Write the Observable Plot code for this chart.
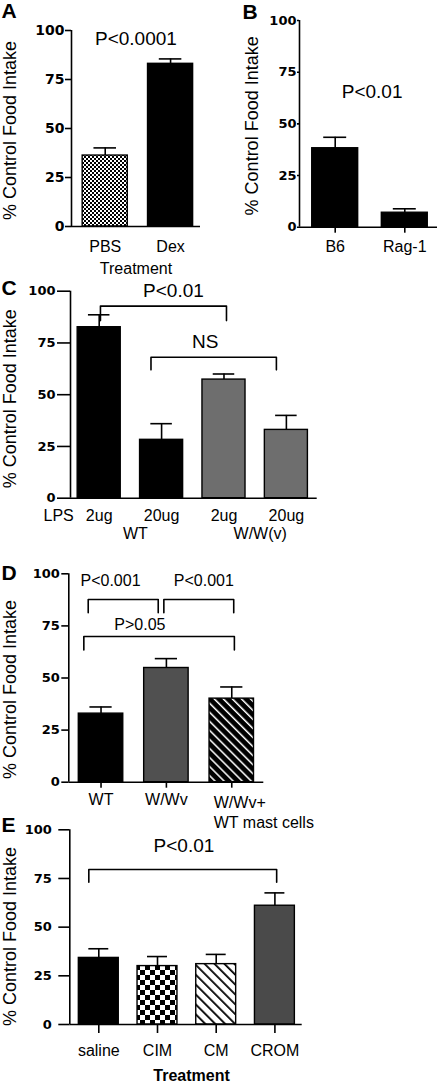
<!DOCTYPE html>
<html>
<head>
<meta charset="utf-8">
<script src="https://cdn.jsdelivr.net/npm/d3@7"></script>
<script src="https://cdn.jsdelivr.net/npm/@observablehq/plot@0.6"></script>
<style>
  body { margin: 0; background: #fff; }
  #fig { position: relative; width: 438px; height: 1085px; overflow: hidden; font-family: "Liberation Sans", Arial, Helvetica, sans-serif; }
  #fig > svg.panel { position: absolute; }
</style>
</head>
<body>
<div id="fig">
<svg width="0" height="0" style="position:absolute">
  <defs>
    <pattern id="chkS" width="4" height="4" patternUnits="userSpaceOnUse">
      <rect width="4" height="4" fill="#fff"/><rect width="2" height="2" fill="#000"/><rect x="2" y="2" width="2" height="2" fill="#000"/>
    </pattern>
    <pattern id="chkL" width="10" height="10" patternUnits="userSpaceOnUse">
      <rect width="10" height="10" fill="#fff"/><rect width="5" height="5" fill="#000"/><rect x="5" y="5" width="5" height="5" fill="#000"/>
    </pattern>
    <pattern id="hatchW" width="7" height="7" patternUnits="userSpaceOnUse" patternTransform="rotate(-45)">
      <rect width="7" height="7" fill="#fff"/><rect width="1.8" height="7" fill="#000"/>
    </pattern>
    <pattern id="hatchB" width="6.4" height="6.4" patternUnits="userSpaceOnUse" patternTransform="rotate(-45)">
      <rect width="6.4" height="6.4" fill="#000"/><rect width="1.5" height="6.4" fill="#fff"/>
    </pattern>
  </defs>
</svg>
</div>
<script>
// ---------------- data ----------------
const yTicks = [0, 25, 50, 75, 100];
const yTitle = "% Control Food Intake";

// Panel A
const catsA = ["PBS", "Dex"];
const meanA = [36.2, 83.0];
const semA = [3.9, 2.5];
const statA = [{text: "P<0.0001", x: 0.47, y: 95.9}];

// Panel B
const catsB = ["B6", "Rag-1"];
const meanB = [38.2, 7.0];
const semB = [5.3, 1.9];
const statB = [{text: "P<0.01", x: 0.53, y: 65.3}];

// Panel C
const doseC = ["2ug", "20ug", "2ug", "20ug"];
const groupC = ["WT", "WT", "W/W(v)", "W/W(v)"];
const meanC = [82.6, 28.2, 57.3, 33.0];
const semC = [6.0, 7.8, 2.7, 7.0];
const bracketC = [{from: 0.02, to: 2.04, y: 92.8, leg: 85.8}, {from: 0.83, to: 2.84, y: 68.1, leg: 62.0}];
const statC = [{text: "P<0.01", x: 1.19, y: 100}, {text: "NS", x: 1.70, y: 75.4}];

// Panel D
const catsD = ["WT", "W/Wv", "W/Wv+\nWT mast cells"];
const meanD = [32.9, 54.8, 40.1];
const semD = [3.2, 4.5, 5.6];
const bracketD = [
  {from: -0.196, to: 0.875, y: 87.7, leg: 81.3},
  {from: 0.961, to: 2.03, y: 87.7, leg: 81.3},
  {from: -0.263, to: 2.04, y: 69.9, leg: 63.4}
];
const statD = [{text: "P<0.001", x: 0.145, y: 96.4}, {text: "P<0.001", x: 1.573, y: 96.4}, {text: "P>0.05", x: 0.594, y: 75.5}];

// Panel E
const catsE = ["saline", "CIM", "CM", "CROM"];
const meanE = [34.2, 30.0, 31.0, 61.0];
const semE = [4.7, 4.9, 5.0, 6.6];
const bracketE = [{from: -0.17, to: 3.03, y: 79.6, leg: 73.1}];
const statE = [{text: "P<0.01", x: 1.45, y: 91.9}];

// ---------------- styles ----------------
const fillsA = ["url(#chkS)", "#000"];
const fillsB = ["#000", "#000"];
const fillsC = ["#000", "#000", "#6e6e6e", "#6e6e6e"];
const fillsD = ["#000", "#505050", "url(#hatchB)"];
const fillsE = ["#000", "url(#chkL)", "url(#hatchW)", "#4a4a4a"];

const SW = 1.6;
const FONT = "'Liberation Sans', Arial, Helvetica, sans-serif";

function panel(o) {
  const data = o.mean.map((v, i) => ({i, label: o.labels[i], v, top: v + o.sem[i]}));
  const hw = o.barW / 2;
  const marks = [
    Plot.rect(data, {x1: d => d.i - hw, x2: d => d.i + hw, y1: 0, y2: "v", fill: d => o.fills[d.i], stroke: "#000", strokeWidth: 1.4}),
    Plot.ruleX(data, {x: "i", y1: "v", y2: "top", strokeWidth: SW}),
    Plot.ruleY(data, {y: "top", x1: d => d.i - hw / 2, x2: d => d.i + hw / 2, strokeWidth: SW}),
    Plot.ruleY([0], {strokeWidth: SW}),
    Plot.ruleX([o.xDomain[0]], {strokeWidth: SW}),
    Plot.axisY({ticks: yTicks, tickSize: o.tickSize, tickPadding: o.tickPadding, label: null,
      fontFamily: "DejaVu Sans", fontWeight: "bold", fontSize: o.tickFont, strokeWidth: SW}),
    Plot.text([yTitle], {text: d => d, frameAnchor: "left", textAnchor: "middle", lineAnchor: "middle", rotate: -90,
      dx: o.yl[0], dy: o.yl[1], fontSize: 18, fontFamily: FONT}),
    Plot.text([o.letter], {text: d => d, frameAnchor: "top-left", textAnchor: "start", lineAnchor: "middle",
      dx: o.letterPos[0], dy: o.letterPos[1], fontSize: 21, fontWeight: "bold", fontFamily: FONT}),
    Plot.text(data.filter(d => !d.label.includes("\n")), {x: "i", frameAnchor: "bottom", lineAnchor: "middle",
      text: "label", dy: o.labelDy, fontSize: 16, fontFamily: FONT})
  ];
  const multi = data.filter(d => d.label.includes("\n"));
  if (multi.length) {
    marks.push(Plot.text(multi, {x: "i", frameAnchor: "bottom", text: "label", textAnchor: "start", lineAnchor: "top",
      lineHeight: 1.25, dx: -18, dy: o.labelDy - 5.7, fontSize: 16, fontFamily: FONT}));
  }
  if (o.xTick) {
    marks.push(Plot.axisX({ticks: data.map(d => d.i), tickSize: o.xTick, tickFormat: () => "", label: null, strokeWidth: SW}));
  }
  if (o.brackets) {
    const pts = o.brackets.flatMap((b, k) => [
      {id: k, x: b.from, y: b.leg}, {id: k, x: b.from, y: b.y}, {id: k, x: b.to, y: b.y}, {id: k, x: b.to, y: b.leg}
    ]);
    marks.push(Plot.line(pts, {x: "x", y: "y", z: "id", strokeWidth: SW}));
  }
  if (o.stats) {
    marks.push(Plot.text(o.stats, {x: "x", y: "y", text: "text", lineAnchor: "middle", fontSize: o.statFont, fontFamily: FONT}));
  }
  if (o.extra) marks.push(...o.extra);
  const svg = Plot.plot({
    width: o.width, height: o.height,
    marginLeft: o.m[0], marginTop: o.m[1], marginRight: o.m[2], marginBottom: o.m[3],
    x: {type: "linear", domain: o.xDomain, axis: o.xTick ? undefined : null},
    y: {domain: [0, 100]},
    color: {type: "identity"},
    style: {background: "transparent", overflow: "visible", fontFamily: FONT, fontSize: "16px", color: "#000"},
    marks
  });
  svg.classList.add("panel");
  svg.style.left = o.left + "px";
  svg.style.top = o.top + "px";
  svg.style.position = "absolute";
  document.getElementById("fig").appendChild(svg);
}

// Panel A
panel({
  left: 0, top: 0, width: 220, height: 280, m: [71, 30, 20, 54],
  xDomain: [-0.516, 1.458], barW: 0.69,
  labels: catsA, mean: meanA, sem: semA, fills: fillsA,
  tickSize: 6, tickPadding: 1, tickFont: 14,
  yl: [-61, 2], letter: "A", letterPos: [-70, -19], labelDy: 20,
  stats: statA, statFont: 19,
  extra: [Plot.text(["Treatment"], {text: d => d, frameAnchor: "bottom", lineAnchor: "middle", dy: 42, fontSize: 16, fontFamily: FONT})]
});

// Panel B
panel({
  left: 220, top: 0, width: 218, height: 270, m: [79, 20, 1, 43.3],
  xDomain: [-0.513, 1.47], barW: 0.66,
  labels: catsB, mean: meanB, sem: semB, fills: fillsB,
  tickSize: 2, tickPadding: 1, tickFont: 13, xTick: 6,
  yl: [-47, 2], letter: "B", letterPos: [-57, -8.5], labelDy: 20,
  stats: statB, statFont: 19
});

// Panel C
const groupsC = Array.from(new Set(groupC)).map(g => {
  const idx = groupC.map((v, i) => v === g ? i : -1).filter(i => i >= 0);
  return {g, x: d3.mean(idx)};
});
panel({
  left: 0, top: 270, width: 330, height: 270, m: [70, 20.7, 13.3, 42.3],
  xDomain: [-0.46, 3.494], barW: 0.69,
  labels: doseC, mean: meanC, sem: semC, fills: fillsC,
  tickSize: 13, tickPadding: 2, tickFont: 13,
  yl: [-60, 4], letter: "C", letterPos: [-69, -3.2], labelDy: 17.3,
  brackets: bracketC, stats: statC, statFont: 19,
  extra: [
    Plot.text(groupsC, {x: "x", text: "g", frameAnchor: "bottom", lineAnchor: "middle", dy: 35.3, dx: 5, fontSize: 16, fontFamily: FONT}),
    Plot.text(["LPS"], {text: d => d, frameAnchor: "bottom-left", textAnchor: "start", lineAnchor: "middle", dx: -27, dy: 17.3, fontSize: 16, fontFamily: FONT})
  ]
});

// Panel D
panel({
  left: 0, top: 540, width: 330, height: 290, m: [68.3, 33.3, 66.7, 48.3],
  xDomain: [-0.493, 2.49], barW: 0.68,
  labels: catsD, mean: meanD, sem: semD, fills: fillsD,
  tickSize: 7, tickPadding: 2, tickFont: 13, xTick: 6,
  yl: [-58.3, 11.5], letter: "D", letterPos: [-67.3, -0.8], labelDy: 17.3,
  brackets: bracketD, stats: statD, statFont: 16
});

// Panel E
panel({
  left: 0, top: 810, width: 330, height: 275, m: [69.3, 19.3, 28.3, 61],
  xDomain: [-0.494, 3.465], barW: 0.68,
  labels: catsE, mean: meanE, sem: semE, fills: fillsE,
  tickSize: 11, tickPadding: 7, tickFont: 13, xTick: 9,
  yl: [-59.3, 9.3], letter: "E", letterPos: [-68.3, -4.3], labelDy: 26,
  brackets: bracketE, stats: statE, statFont: 19,
  extra: [Plot.text(["Treatment"], {text: d => d, frameAnchor: "bottom", lineAnchor: "middle", dx: 5.5, dy: 51.5, fontSize: 16, fontWeight: "bold", fontFamily: FONT})]
});
</script>
</body>
</html>
